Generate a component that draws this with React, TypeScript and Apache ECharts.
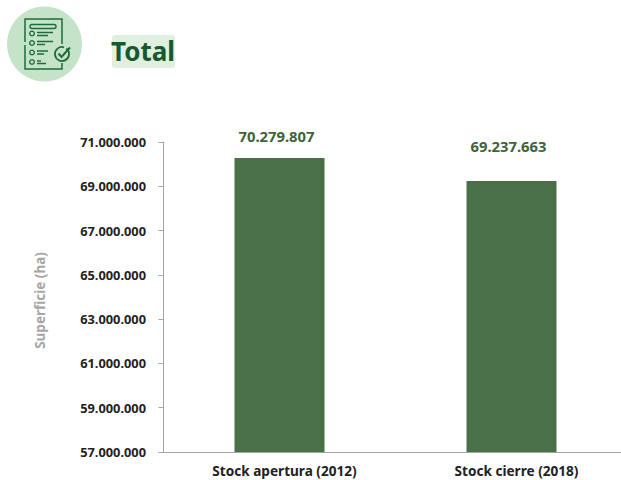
import React, { useEffect, useRef } from "react";
import * as echarts from "echarts";

const categories = ["Stock apertura (2012)", "Stock cierre (2018)"];
const stockValues = [70279807, 69237663];
const labelGaps = [14, 28];
const yTicks = [57000000, 59000000, 61000000, 63000000, 65000000, 67000000, 69000000, 71000000];
const titleText = "Total";
const yAxisName = "Superficie (ha)";

const FONT = "'Noto Sans', sans-serif";
const fmt = (v: number) => String(Math.round(v)).replace(/\B(?=(\d{3})+$)/g, ".");

const ICON = "#1f6b3a";
const line = (x1: number, y1: number, x2: number, y2: number, w = 1.5) => ({
  type: "line", shape: { x1, y1, x2, y2 }, style: { stroke: ICON, lineWidth: w }, silent: true,
});
const bullet = (cx: number, cy: number) => ({
  type: "circle", shape: { cx, cy, r: 2.3 }, style: { fill: "none", stroke: ICON, lineWidth: 1.4 }, silent: true,
});

export default function App() {
  const ref = useRef<HTMLDivElement>(null);
  useEffect(() => {
    document.body.style.margin = "0";
    const chart = echarts.init(ref.current!, undefined, { renderer: "svg" });
    chart.setOption({
      animation: false,
      backgroundColor: "#ffffff",
      grid: { left: 163.5, top: 142, width: 464, height: 310, containLabel: false },
      xAxis: {
        type: "category",
        data: categories,
        axisLine: { lineStyle: { color: "#a6a6a6", width: 1 } },
        axisTick: { show: false },
        axisLabel: { color: "#222222", fontFamily: FONT, fontWeight: "bold", fontSize: 13.6, margin: 11, padding: [0, 0, 0, 10] },
      },
      yAxis: {
        type: "value",
        min: yTicks[0],
        max: yTicks[yTicks.length - 1],
        name: yAxisName,
        nameLocation: "middle",
        nameGap: 116.5,
        nameTextStyle: { color: "#a6a6a6", fontFamily: FONT, fontWeight: "bold", fontSize: 13.5, padding: [0, 7, 0, 0] },
        splitLine: { show: false },
        axisLine: { show: true, lineStyle: { color: "#a6a6a6", width: 1 } },
        axisTick: { show: true, length: 5, lineStyle: { color: "#a6a6a6" }, customValues: yTicks },
        axisLabel: {
          color: "#222222", fontFamily: FONT, fontWeight: "bold", fontSize: 12.8, margin: 17.5,
          padding: [2, 0, 0, 0],
          customValues: yTicks,
          formatter: (v: number) => fmt(v),
        },
      },
      series: [
        {
          type: "bar",
          barWidth: 90,
          itemStyle: { color: "#4a7048" },
          data: stockValues.map((value, i) => ({
            value,
            label: {
              show: true,
              position: "top",
              distance: labelGaps[i],
              offset: [-3, 0],
              color: "#3f6437",
              fontFamily: FONT,
              fontWeight: "bold",
              fontSize: 14.8,
              formatter: (p: any) => fmt(p.value),
            },
          })),
        },
      ],
      graphic: [
        { type: "circle", shape: { cx: 44.5, cy: 44, r: 37.5 }, style: { fill: "#c5e3c9" }, silent: true },
        { type: "polyline", shape: { points: [[25, 42], [25, 19], [62, 19], [62, 44]] }, style: { fill: "none", stroke: ICON, lineWidth: 1.5 }, silent: true },
        { type: "polyline", shape: { points: [[25, 45], [25, 69], [62, 69], [62, 63]] }, style: { fill: "none", stroke: ICON, lineWidth: 1.5 }, silent: true },
        { type: "rect", shape: { x: 30, y: 24.5, width: 26, height: 4, r: 2 }, style: { fill: "none", stroke: ICON, lineWidth: 1.4 }, silent: true },
        bullet(32, 33.5), bullet(32, 43), bullet(32, 52.5), bullet(32, 62),
        line(37, 32.5, 53, 32.5), line(37, 35.5, 48, 35.5),
        line(37, 41.5, 53, 41.5), line(37, 44.5, 45, 44.5),
        line(37, 51, 48, 51), line(37, 54, 44, 54),
        line(37, 61, 41, 61), line(37, 63.5, 46, 63.5),
        { type: "arc", shape: { cx: 62, cy: 54, r: 7, startAngle: -0.9, endAngle: 5.0 }, style: { fill: "none", stroke: ICON, lineWidth: 1.8 }, silent: true },
        { type: "polyline", shape: { points: [[58.5, 53.5], [61.5, 57], [70, 47.5]] }, style: { fill: "none", stroke: ICON, lineWidth: 2 }, silent: true },
        { type: "rect", shape: { x: 112, y: 35, width: 63, height: 33, r: 3 }, style: { fill: "#e0f0e0" }, silent: true },
        {
          type: "text", x: 143, y: 51,
          style: { text: titleText, fill: "#17592f", fontFamily: FONT, fontWeight: "bold", fontSize: 26, align: "center", verticalAlign: "middle" },
          silent: true,
        },
      ],
    });
    return () => chart.dispose();
  }, []);
  return (
    <div style={{ width: 621, height: 480, overflow: "hidden" }}>
      <div ref={ref} style={{ width: 640, height: 480 }} />
    </div>
  );
}
